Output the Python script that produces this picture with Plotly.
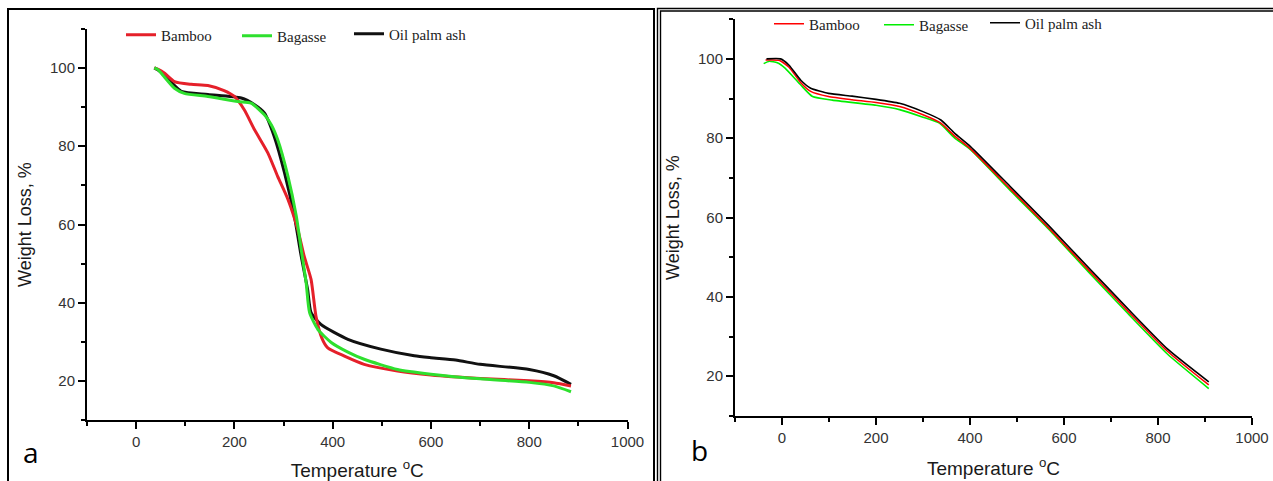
import plotly.graph_objects as go

# ---------------- data ----------------
series_names = ["Bamboo", "Bagasse", "Oil palm ash"]

# Panel a
bamboo_a_T = [37, 45, 58, 78, 112, 146, 179, 200, 220, 241, 268, 288, 309, 329, 342, 356, 366, 378, 390, 424, 464, 532, 600, 700, 800, 850, 885]
bamboo_a_W = [100, 99.6, 98.6, 96.5, 95.8, 95.5, 94.2, 92.7, 89.3, 84.2, 78.3, 72.3, 66.4, 58.7, 51.9, 46, 36.6, 31, 28.5, 26.4, 24.3, 22.6, 21.6, 20.7, 20.1, 19.6, 18.8]

bagasse_a_T = [37, 45, 54, 78, 98, 146, 207, 234, 261, 275, 288, 309, 326, 336, 346, 353, 370, 397, 430, 464, 532, 600, 700, 800, 850, 885]
bagasse_a_W = [100, 99.5, 98.2, 94.8, 93.5, 92.7, 91.4, 91, 88, 85.5, 81.7, 72.3, 62.1, 53.6, 45.1, 37.5, 33.2, 29.9, 27.5, 25.6, 23, 21.8, 20.6, 19.7, 18.8, 17.3]

oilpalm_a_T = [37, 50, 70, 92, 146, 214, 241, 261, 281, 302, 322, 336, 349, 356, 376, 431, 498, 566, 600, 650, 700, 800, 850, 885]
oilpalm_a_W = [100, 99, 96.5, 94, 93.2, 92.3, 90.6, 88.5, 82.5, 73.2, 62.1, 51.9, 43.4, 37.5, 34.5, 30.7, 28.2, 26.5, 26, 25.4, 24.3, 23, 21.4, 19.2]

# Panel b
bamboo_b_T = [-35, -5, 15, 40, 61, 99, 149, 200, 250, 300, 338, 367, 401, 485, 568, 652, 736, 820, 908]
bamboo_b_W = [99.7, 99.6, 97.9, 94, 91.8, 90.5, 89.7, 89, 88, 85.9, 83.8, 80.6, 77.3, 67.3, 57.3, 46.8, 36.4, 26.3, 17.8]

bagasse_b_T = [-39, -27, -10, 7, 40, 65, 107, 200, 250, 300, 335, 367, 401, 485, 568, 652, 736, 820, 908]
bagasse_b_W = [98.8, 99.4, 99, 97.6, 93.4, 90.5, 89.6, 88.3, 87.2, 85.3, 83.8, 80.1, 77.1, 66.9, 57, 46.3, 35.8, 25.6, 16.9]

oilpalm_b_T = [-33, -3, 15, 40, 61, 99, 149, 200, 250, 300, 338, 367, 401, 485, 568, 652, 736, 820, 908]
oilpalm_b_W = [100, 100, 98.4, 94.6, 92.6, 91.3, 90.6, 89.8, 88.8, 86.7, 84.6, 81.3, 77.9, 67.9, 57.9, 47.4, 37, 26.9, 18.6]

x_ticks = [0, 200, 400, 600, 800, 1000]
y_ticks = [20, 40, 60, 80, 100]

# ---------------- figure ----------------
H = 481
W_EFF = 1256  # effective drawn width of the page (measured)
def px(x):
    return x / W_EFF
def py(y):
    return 1 - y / H

fig = go.Figure()

cols_a = {"Bamboo": "#e5202a", "Bagasse": "#2ee02e", "Oil palm ash": "#111111"}
cols_b = {"Bamboo": "#ff0000", "Bagasse": "#00ee00", "Oil palm ash": "#000000"}

# panel a: draw black first, then red, then green
for name, T, Wt, leg in [("Oil palm ash", oilpalm_a_T, oilpalm_a_W, "legend3"),
                         ("Bamboo", bamboo_a_T, bamboo_a_W, "legend"),
                         ("Bagasse", bagasse_a_T, bagasse_a_W, "legend2")]:
    fig.add_trace(go.Scatter(x=T, y=Wt, mode="lines", name=name,
                             line=dict(color=cols_a[name], width=3, shape="spline", smoothing=0.6),
                             xaxis="x", yaxis="y", legend=leg))

for name, T, Wt, leg in [("Bagasse", bagasse_b_T, bagasse_b_W, "legend5"),
                         ("Bamboo", bamboo_b_T, bamboo_b_W, "legend4"),
                         ("Oil palm ash", oilpalm_b_T, oilpalm_b_W, "legend6")]:
    fig.add_trace(go.Scatter(x=T, y=Wt, mode="lines", name=name,
                             line=dict(color=cols_b[name], width=1.6, shape="spline", smoothing=0.5),
                             xaxis="x2", yaxis="y2", legend=leg))

tickfont = dict(family="Liberation Sans, Arial", size=15, color="#333333")
xtitlefont = dict(family="Liberation Sans, Arial", size=19, color="#1a1a1a")
ytitlefont = dict(family="Liberation Sans, Arial", size=18, color="#1a1a1a")

def xaxis_cfg(domain, anchor):
    return dict(domain=domain, anchor=anchor, range=[-100, 1000], tickmode="array", tickvals=x_ticks,
                showline=True, linecolor="black", linewidth=2, ticks="outside", ticklen=7, tickwidth=2,
                tickcolor="black", minor=dict(dtick=100, tick0=0, ticks="outside", ticklen=4, tickwidth=2, tickcolor="black"),
                showgrid=False, zeroline=False, tickfont=tickfont,
                title=dict(text="Temperature <sup>o</sup>C", font=xtitlefont, standoff=17))

def yaxis_cfg(domain, anchor):
    return dict(domain=domain, anchor=anchor, range=[10, 110], tickmode="array", tickvals=y_ticks,
                showline=True, linecolor="black", linewidth=2, ticks="outside", ticklen=7, tickwidth=2,
                tickcolor="black", minor=dict(dtick=10, tick0=0, ticks="outside", ticklen=4, tickwidth=2, tickcolor="black"),
                showgrid=False, zeroline=False, tickfont=tickfont,
                title=dict(text="Weight Loss, %", font=ytitlefont, standoff=14))

legfont = dict(family="Liberation Serif, Times New Roman", size=15, color="#222222")

def leg_cfg(xpix, ypix):
    return dict(orientation="h", x=px(xpix), y=py(ypix), xanchor="left", yanchor="middle",
                font=legfont, bgcolor="rgba(0,0,0,0)")

fig.update_layout(
    autosize=True, height=H, margin=dict(l=0, r=0, t=0, b=0),
    paper_bgcolor="white", plot_bgcolor="white",
    xaxis=xaxis_cfg([px(87), px(627.5)], "y"),
    yaxis=yaxis_cfg([py(421.25), py(28.75)], "x"),
    xaxis2=xaxis_cfg([px(735), px(1252)], "y2"),
    yaxis2=yaxis_cfg([py(416.75), py(19.25)], "x2"),
    legend=leg_cfg(121, 35),
    legend2=leg_cfg(237, 36),
    legend3=leg_cfg(349, 34),
    legend4=leg_cfg(769, 24),
    legend5=leg_cfg(879, 25),
    legend6=leg_cfg(985, 23),
    showlegend=True,
)

# panel frames
fig.add_shape(type="rect", xref="paper", yref="paper", x0=px(8), x1=px(654), y0=py(500), y1=py(9),
              line=dict(color="black", width=2), fillcolor="rgba(0,0,0,0)", layer="below")
fig.add_shape(type="rect", xref="paper", yref="paper", x0=px(657.5), x1=px(1320), y0=py(500), y1=py(8.5),
              line=dict(color="black", width=1.4), fillcolor="rgba(0,0,0,0)", layer="below")
fig.add_shape(type="rect", xref="paper", yref="paper", x0=px(660.5), x1=px(1320), y0=py(500), y1=py(11),
              line=dict(color="black", width=1.4), fillcolor="rgba(0,0,0,0)", layer="below")

# panel letters
letter_font = dict(family="Open Sans, Liberation Sans", size=28, color="black")
fig.add_annotation(text="a", xref="paper", yref="paper", x=px(31), y=py(453), showarrow=False,
                   font=letter_font, xanchor="center", yanchor="middle")
fig.add_annotation(text="b", xref="paper", yref="paper", x=px(699), y=py(451), showarrow=False,
                   font=letter_font, xanchor="center", yanchor="middle")

fig.write_html("out.html", default_width="100%", default_height="481px",
               config={"displayModeBar": False, "responsive": True},
               post_script="document.body.style.margin='0';document.body.style.overflow='hidden';"
                           "Plotly.Plots.resize(document.getElementById('{plot_id}'));")
